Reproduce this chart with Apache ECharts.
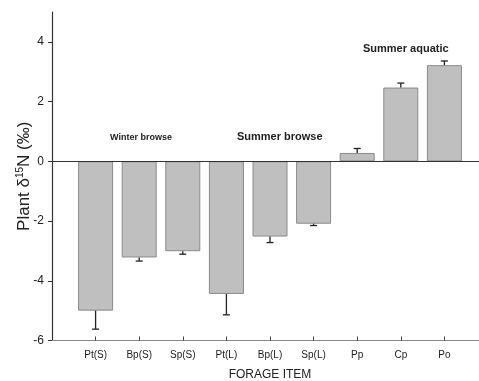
<!DOCTYPE html>
<html>
<head>
<meta charset="utf-8">
<script src="https://cdn.jsdelivr.net/npm/echarts@6/dist/echarts.min.js"></script>
<style>html,body{margin:0;padding:0;background:#fff;}#c{width:479px;height:381px;}</style>
</head>
<body>
<div id="c"></div>
<script>
const categories = ['Pt(S)', 'Bp(S)', 'Sp(S)', 'Pt(L)', 'Bp(L)', 'Sp(L)', 'Pp', 'Cp', 'Po'];
const values = [-5.0, -3.22, -3.01, -4.44, -2.52, -2.09, 0.28, 2.47, 3.22];
const errors = [0.62, 0.12, 0.1, 0.7, 0.2, 0.06, 0.15, 0.15, 0.14];
const yTicks = [-6, -4, -2, 0, 2, 4];
const groupLabels = ['Winter browse', 'Summer browse', 'Summer aquatic'];

// padded category axis: an empty slot before and after the items
const axisCats = [''].concat(categories, ['']);
const barData = ['-'].concat(values, ['-']);
const errData = categories.map((c, i) => [i + 1, values[i], errors[i]]);

const font = 'Liberation Sans, Arial, sans-serif';
const chart = echarts.init(document.getElementById('c'), null, {renderer: 'canvas'});
chart.setOption({
  animation: false,
  backgroundColor: '#fff',
  grid: {left: 52, top: 12, width: 436, height: 328.5, containLabel: false, outerBoundsMode: 'none'},
  xAxis: {
    type: 'category',
    data: axisCats,
    boundaryGap: false,
    name: 'FORAGE ITEM',
    nameLocation: 'middle',
    nameGap: 28,
    nameTextStyle: {fontFamily: font, fontSize: 12, color: '#222'},
    axisLine: {onZero: false, lineStyle: {color: '#888', width: 1.2}},
    axisTick: {inside: true, length: 4, lineStyle: {color: '#444'},
      interval: (i) => i > 0 && i < axisCats.length - 1},
    axisLabel: {fontFamily: font, fontSize: 10, color: '#222', margin: 10,
      interval: (i) => i > 0 && i < axisCats.length - 1},
    splitLine: {show: false}
  },
  yAxis: {
    type: 'value',
    min: -6, max: 5, interval: 2,
    name: 'Plant δ{sup|15}N (‰)',
    nameLocation: 'middle',
    nameGap: 18,
    nameMoveOverlap: false,
    nameTextStyle: {fontFamily: font, fontSize: 17, color: '#222',
      rich: {sup: {fontFamily: font, fontSize: 10, color: '#222', verticalAlign: 'top', padding: [0, 0, 9, 0]}}},
    axisLine: {show: true, lineStyle: {color: '#333', width: 1.2}},
    axisTick: {show: true, length: 4, lineStyle: {color: '#333'}, customValues: yTicks},
    axisLabel: {fontFamily: font, fontSize: 12, color: '#222', margin: 8, customValues: yTicks},
    splitLine: {show: false}
  },
  series: [
    {
      type: 'bar',
      data: barData,
      barWidth: 35,
      itemStyle: {color: '#bfbfbf', borderColor: '#8a8a8a', borderWidth: 1},
      markLine: {
        silent: true, symbol: 'none', label: {show: false},
        lineStyle: {color: '#333', width: 1.2, type: 'solid'},
        data: [{yAxis: 0}]
      }
    },
    {
      type: 'custom',
      data: errData,
      z: 5,
      renderItem: function (params, api) {
        const x = api.value(0), v = api.value(1), e = api.value(2);
        const end = v < 0 ? v - e : v + e;
        const p0 = api.coord([x, v]);
        const p1 = api.coord([x, end]);
        const hw = 3.5;
        const st = {stroke: '#222', lineWidth: 1.3};
        return {type: 'group', children: [
          {type: 'line', shape: {x1: p0[0], y1: p0[1], x2: p1[0], y2: p1[1]}, style: st},
          {type: 'line', shape: {x1: p1[0] - hw, y1: p1[1], x2: p1[0] + hw, y2: p1[1]}, style: st}
        ]};
      }
    }
  ],
  graphic: [
    {type: 'text', left: 110, top: 133, style: {text: groupLabels[0], font: 'bold 9px ' + font, fill: '#222'}},
    {type: 'text', left: 237, top: 131, style: {text: groupLabels[1], font: 'bold 11px ' + font, fill: '#222'}},
    {type: 'text', left: 363, top: 43, style: {text: groupLabels[2], font: 'bold 11px ' + font, fill: '#222'}}
  ]
});
</script>
</body>
</html>
